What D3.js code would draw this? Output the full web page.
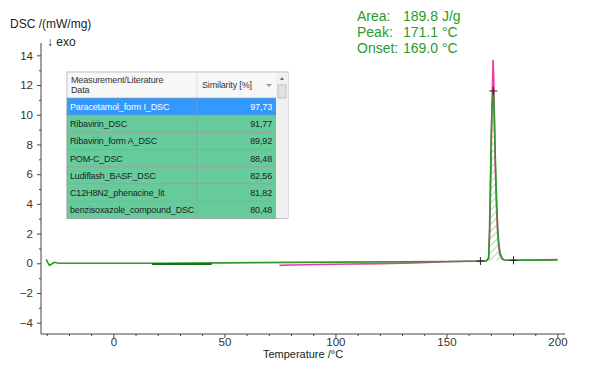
<!DOCTYPE html>
<html>
<head>
<meta charset="utf-8">
<script src="https://cdn.jsdelivr.net/npm/d3@7"></script>
<style>
  body { margin: 0; background: #fff; }
  svg { font-family: "Liberation Sans", Arial, sans-serif; }
</style>
</head>
<body>
<div class="chart"></div>
<script>
// Data.
const greenTemp = [-30.3, -29.5, -28.8, -27.8, -26.6, -25.2, -24, -20, 0, 20, 50, 100, 150, 160, 165, 168, 169, 169.4, 169.8, 170.2, 170.6, 171.1, 171.5, 171.9, 172.3, 172.7, 173.1, 173.6, 174.2, 175, 176, 178, 180, 190, 200];
const greenDsc = [0.27, 0.05, -0.14, -0.05, 0.07, 0.02, 0, 0, 0, 0, 0.03, 0.08, 0.12, 0.14, 0.15, 0.17, 0.35, 2.2, 5.5, 8.8, 10.8, 11.6, 10.2, 7.8, 5.6, 3.8, 2.4, 1.3, 0.7, 0.35, 0.22, 0.2, 0.2, 0.2, 0.22];

const pinkTemp = [74.8, 80, 100, 120, 135, 150, 160, 165, 168, 169, 169.5, 170, 170.5, 171, 171.3, 171.7, 172, 172.5, 173, 173.5, 174, 175, 176, 180, 200];
const pinkDsc = [-0.14, -0.11, -0.06, -0.02, 0.03, 0.1, 0.14, 0.15, 0.17, 0.3, 2.2, 6, 10.5, 13.7, 12.5, 9, 6.5, 4, 2.2, 1.2, 0.6, 0.3, 0.22, 0.2, 0.25];

const darkTemp = [17.4, 30, 44.3];
const darkDsc = [-0.04, -0.05, -0.04];

const peakMarks = [[165.3, 0.15], [171.1, 11.6], [180.2, 0.2]];
const areaStart = 169, areaEnd = 176.5;

const xTicks = [0, 50, 100, 150, 200];
const yTicks = [-4, -2, 0, 2, 4, 6, 8, 10, 12, 14];

const resultLabels = ['Area:', 'Peak:', 'Onset:'];
const resultValues = ['189.8 J/g', '171.1 °C', '169.0 °C'];

const libraryNames = ['Paracetamol_form I_DSC', 'Ribavirin_DSC', 'Ribavirin_form A_DSC', 'POM-C_DSC', 'Ludiflash_BASF_DSC', 'C12H8N2_phenacine_lit', 'benzisoxazole_compound_DSC'];
const similarity = ['97,73', '91,77', '89,92', '88,48', '82,56', '81,82', '80,48'];

const width = 600, height = 384;
const plot = {left: 41, right: 565, top: 43, bottom: 334};

const svg = d3.select('.chart').append('svg')
    .attr('width', width)
    .attr('height', height);

const x = d3.scaleLinear().domain([-32.6, 203.4]).range([plot.left, plot.right]);
const y = d3.scaleLinear().domain([-4.76, 14.83]).range([plot.bottom, plot.top]);

// hatch pattern for the peak area
const defs = svg.append('defs');
defs.append('pattern')
    .attr('id', 'hatch')
    .attr('patternUnits', 'userSpaceOnUse')
    .attr('width', 5).attr('height', 5)
    .attr('patternTransform', 'rotate(45)')
    .append('line')
    .attr('x1', 0).attr('y1', 0).attr('x2', 0).attr('y2', 5)
    .attr('stroke', '#3a9a3a').attr('stroke-width', 0.8);

// Axes
const axisColor = '#444';
const yAxis = svg.append('g')
    .attr('transform', `translate(${plot.left},0)`)
    .call(d3.axisLeft(y).tickValues(yTicks).tickSize(4).tickPadding(4));
yAxis.select('.domain').attr('d', `M0,${plot.top}V${plot.bottom}`);
svg.append('g')
    .attr('transform', `translate(${plot.left},0)`)
    .call(d3.axisLeft(y).tickValues(d3.range(-3, 15, 2)).tickSize(2).tickFormat(''))
    .select('.domain').remove();

const xAxis = svg.append('g')
    .attr('transform', `translate(0,${plot.bottom})`)
    .call(d3.axisBottom(x).tickValues(xTicks).tickSize(4).tickPadding(0));
xAxis.select('.domain').attr('d', `M${plot.left},0H${plot.right}`);
svg.append('g')
    .attr('transform', `translate(0,${plot.bottom})`)
    .call(d3.axisBottom(x).tickValues(d3.range(-30, 201, 10).filter(d => d % 50 !== 0)).tickSize(2).tickFormat(''))
    .select('.domain').remove();

svg.selectAll('.tick text').attr('font-size', 11.5).attr('fill', '#333')
    .attr('font-family', '"Liberation Sans", Arial, sans-serif');
svg.selectAll('.domain, .tick line').attr('stroke', axisColor);

svg.append('text').attr('x', 10).attr('y', 28).attr('font-size', 12).attr('fill', '#222').text('DSC /(mW/mg)');
svg.append('text').attr('x', 47).attr('y', 46).attr('font-size', 12).attr('fill', '#222').text('\u2193 exo');
svg.append('text').attr('x', 303).attr('y', 358).attr('text-anchor', 'middle').attr('font-size', 11).attr('fill', '#222').text('Temperature /°C');

// Curves
const line = d3.line().x(d => x(d[0])).y(d => y(d[1]));
const greenPts = d3.zip(greenTemp, greenDsc);
const pinkPts = d3.zip(pinkTemp, pinkDsc);

// hatched peak area between baseline and curve
const base0 = peakMarks[0], base1 = peakMarks[2];
const baseAt = t => base0[1] + (base1[1] - base0[1]) * (t - base0[0]) / (base1[0] - base0[0]);
const areaPts = greenPts.filter(d => d[0] >= areaStart && d[0] <= areaEnd);
svg.append('path')
    .datum(areaPts)
    .attr('d', d3.area().x(d => x(d[0])).y0(d => y(baseAt(d[0]))).y1(d => y(d[1])))
    .attr('fill', 'url(#hatch)');

svg.append('path').datum(pinkPts).attr('d', line)
    .attr('fill', 'none').attr('stroke', '#e8409a').attr('stroke-width', 1.6);
svg.append('path').datum(greenPts).attr('d', line)
    .attr('fill', 'none').attr('stroke', '#2e9a2e').attr('stroke-width', 1.6);
svg.append('path').datum(d3.zip(darkTemp, darkDsc)).attr('d', line)
    .attr('fill', 'none').attr('stroke', '#1e6e1e').attr('stroke-width', 2);

svg.append('g').selectAll('path')
    .data(peakMarks)
    .enter().append('path')
    .attr('d', d => `M${x(d[0]) - 4},${y(d[1])}h8M${x(d[0])},${y(d[1]) - 4}v8`)
    .attr('stroke', '#222').attr('stroke-width', 1);

// Result text
const res = svg.append('g').attr('fill', '#2a9a2a').attr('font-size', 14);
res.selectAll('.lbl').data(resultLabels).enter().append('text')
    .attr('x', 357).attr('y', (d, i) => 21 + i * 16).text(d => d);
res.selectAll('.val').data(resultValues).enter().append('text')
    .attr('x', 403).attr('y', (d, i) => 21 + i * 16).text(d => d);

// Library search table
const tbl = {left: 67, top: 72, right: 276, scroll: 288, colSplit: 197, headH: 26, rowH: 17.2};
const tg = svg.append('g').attr('font-size', 9).attr('letter-spacing', -0.15);
tg.append('rect')
    .attr('x', tbl.left).attr('y', tbl.top)
    .attr('width', tbl.scroll - tbl.left).attr('height', tbl.headH + tbl.rowH * libraryNames.length)
    .attr('fill', '#fff').attr('stroke', '#bbb');
tg.append('rect')
    .attr('x', tbl.left + 1).attr('y', tbl.top + 1)
    .attr('width', tbl.right - tbl.left - 1).attr('height', tbl.headH - 1)
    .attr('fill', '#f7f7f7');
tg.append('line')
    .attr('x1', tbl.colSplit).attr('x2', tbl.colSplit)
    .attr('y1', tbl.top + 2).attr('y2', tbl.top + tbl.headH)
    .attr('stroke', '#ddd');
tg.append('text').attr('x', tbl.left + 4).attr('y', tbl.top + 11).attr('fill', '#333').text('Measurement/Literature');
tg.append('text').attr('x', tbl.left + 4).attr('y', tbl.top + 21).attr('fill', '#333').text('Data');
tg.append('text').attr('x', tbl.colSplit + 5).attr('y', tbl.top + 16).attr('fill', '#333').text('Similarity [%]');
tg.append('path')
    .attr('d', `M${tbl.right - 10},${tbl.top + 12}h6l-3,3z`)
    .attr('fill', '#999');

const rows = tg.selectAll('.row').data(libraryNames).enter().append('g')
    .attr('transform', (d, i) => `translate(0,${tbl.top + tbl.headH + i * tbl.rowH})`);
rows.append('rect')
    .attr('x', tbl.left).attr('width', tbl.right - tbl.left).attr('height', tbl.rowH)
    .attr('fill', (d, i) => i === 0 ? '#3399ff' : '#66cc9c')
    .attr('stroke', '#999').attr('stroke-width', 0.6);
rows.append('line')
    .attr('x1', tbl.colSplit).attr('x2', tbl.colSplit).attr('y1', 0).attr('y2', tbl.rowH)
    .attr('stroke', '#999').attr('stroke-width', 0.6);
rows.append('text')
    .attr('x', tbl.left + 3).attr('y', 12)
    .attr('fill', (d, i) => i === 0 ? '#fff' : '#222')
    .text(d => d);
rows.append('text')
    .attr('x', tbl.right - 4).attr('y', 12).attr('text-anchor', 'end')
    .attr('fill', (d, i) => i === 0 ? '#fff' : '#222')
    .text((d, i) => similarity[i]);

// scrollbar
tg.append('rect')
    .attr('x', tbl.right).attr('y', tbl.top + 1)
    .attr('width', tbl.scroll - tbl.right).attr('height', tbl.headH + tbl.rowH * libraryNames.length - 2)
    .attr('fill', '#f0f0f0');
tg.append('path')
    .attr('d', `M${tbl.right + 4},${tbl.top + 8}l2,-3l2,3z`)
    .attr('fill', '#666');
tg.append('rect')
    .attr('x', tbl.right + 2).attr('y', tbl.top + 13)
    .attr('width', tbl.scroll - tbl.right - 4).attr('height', 13)
    .attr('fill', '#e2e2e2').attr('stroke', '#aaa').attr('stroke-width', 0.6);
</script>
</body>
</html>
